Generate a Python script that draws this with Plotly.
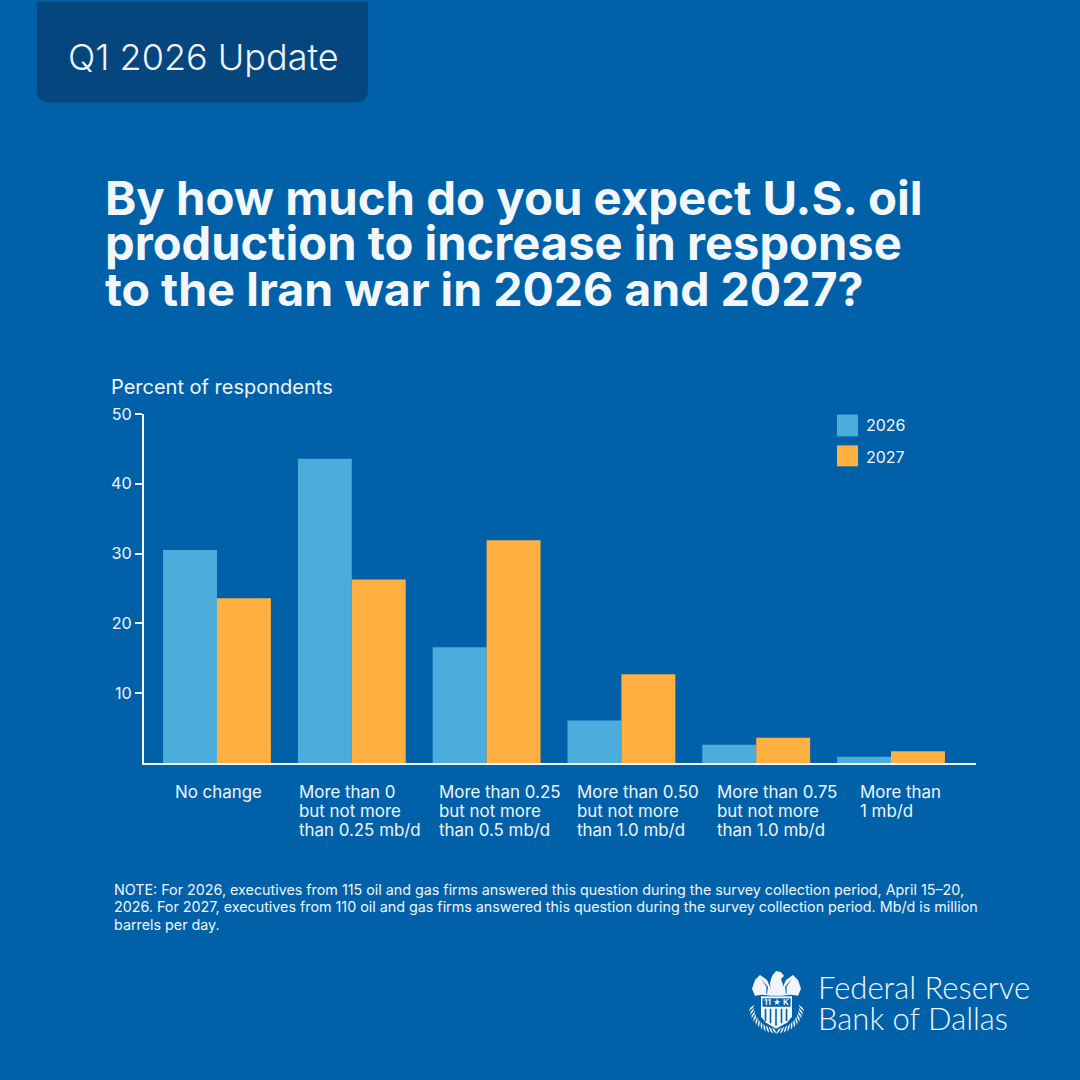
import math
import plotly.graph_objects as go

categories = ["No change", "More than 0 but not more than 0.25 mb/d", "More than 0.25 but not more than 0.5 mb/d",
              "More than 0.50 but not more than 1.0 mb/d", "More than 0.75 but not more than 1.0 mb/d", "More than 1 mb/d"]
values_2026 = [30.5, 43.6, 16.6, 6.1, 2.6, 0.9]
values_2027 = [23.6, 26.3, 31.9, 12.7, 3.6, 1.7]
y_ticks = [10, 20, 30, 40, 50]
category_lines = [["No change"], ["More than 0", "but not more", "than 0.25 mb/d"],
                  ["More than 0.25", "but not more", "than 0.5 mb/d"],
                  ["More than 0.50", "but not more", "than 1.0 mb/d"],
                  ["More than 0.75", "but not more", "than 1.0 mb/d"], ["More than", "1 mb/d"]]
category_left = [175, 299, 439, 577, 717, 860]
title_lines = ["By how much do you expect U.S. oil", "production to increase in response", "to the Iran war in 2026 and 2027?"]
note_lines = ["NOTE: For 2026, executives from 115 oil and gas firms answered this question during the survey collection period, April 15–20,",
              "2026. For 2027, executives from 110 oil and gas firms answered this question during the survey collection period. Mb/d is million",
              "barrels per day."]

BG, TAB, C26, C27, FG = "#0061A9", "#06467F", "#4BADDB", "#FFB040", "#F1F5F9"
FONT = "Inter"
W = H = 1080
L, R, T, B = 144, 976, 413.5, 763.5
px = lambda x: (x - L) / (R - L)
py = lambda y: (B - y) / (B - T)

def txt(x, y, s, size, weight=400, color=FG, font=FONT):
    return dict(xref="paper", yref="paper", x=px(x), y=py(y), text=s, showarrow=False, xanchor="left", yanchor="middle",
                align="left", borderpad=0, font=dict(family=font, size=size, color=color, weight=weight))

def path(points, close=True):
    d = "M" + " L".join(f"{px(a):.5f},{py(b):.5f}" for a, b in points)
    return d + (" Z" if close else "")

def fill(points, color=FG):
    return dict(type="path", xref="paper", yref="paper", path=path(points), fillcolor=color, line=dict(width=0))

def rect(x0, y0, x1, y1, color):
    return dict(type="rect", xref="paper", yref="paper", x0=px(x0), x1=px(x1), y0=py(y0), y1=py(y1),
                fillcolor=color, line=dict(width=0))

fig = go.Figure()
fig.add_bar(x=list(range(6)), y=values_2026, name="2026", marker=dict(color=C26, line_width=0), hovertext=categories)
fig.add_bar(x=list(range(6)), y=values_2027, name="2027", marker=dict(color=C27, line_width=0), hovertext=categories)

ann = [txt(67, 57, "Q1 2026 Update", 36, 300)]
ann[0]["yshift"] = 1.5
for s, y, size in zip(title_lines, [196.5, 241.5, 288.5], [47.3, 47.1, 46.5]):
    ann.append(txt(104, y, s, size, 700, "#F4F7FA"))
ann.append(txt(110, 386, "Percent of respondents", 20))
for left, lines in zip(category_left, category_lines):
    for j, s in enumerate(lines):
        ann.append(txt(left - 1, 793 + j * 19, s, 16.9))
for s, y in zip(note_lines, [891, 908, 925]):
    ann.append(txt(113, y, s, 14.3))
ann += [txt(865, 425, "2026", 16), txt(865, 456.5, "2027", 16)]
ann += [txt(817, 988, "Federal Reserve", 31, 300, font="Lato"), txt(817, 1019, "Bank of Dallas", 31, 300, font="Lato")]

# header tab (rounded lower corners)
tab = ("M%f,%f L%f,%f L%f,%f Q%f,%f %f,%f L%f,%f Q%f,%f %f,%f Z" % (
    px(37), py(0), px(368), py(0), px(368), py(88), px(368), py(101), px(355), py(101),
    px(50), py(101), px(37), py(101), px(37), py(88)))
shapes = [dict(type="path", xref="paper", yref="paper", path=tab, fillcolor=TAB, line=dict(width=0)),
          rect(837, 414, 858, 436, C26), rect(837, 445, 858, 466, C27)]

# seal: eagle wings, head, shield, wreath
shapes += [
    fill([(771, 990), (767, 981), (760, 976), (755, 981), (752, 990), (755, 997), (762, 996), (771, 997)]),
    fill([(782, 990), (786, 981), (793, 976), (798, 981), (801, 990), (798, 997), (791, 996), (782, 997)]),
    fill([(770, 984), (772, 977), (776, 972), (781, 973), (784, 977), (781, 980), (783, 986), (782, 997), (771, 997)]),
    fill([(761, 980), (768, 988), (767, 995), (766.2, 995), (766.5, 988)], BG),
    fill([(792, 980), (785, 988), (786, 995), (786.8, 995), (786.5, 988)], BG),
    rect(761, 997.5, 792, 999.5, FG),
    rect(761, 997.5, 762.5, 1009, FG),
    rect(790.5, 997.5, 792, 1009, FG),
    fill([(761, 1008), (792, 1008), (792, 1018), (787, 1024), (776, 1030), (766, 1024), (761, 1018)]),
]
for xs in [765.5, 770.5, 776, 781.5, 786.5]:
    shapes.append(rect(xs - 0.8, 1010, xs + 0.8, 1027 - abs(xs - 776) * 0.45, BG))
# wreath leaves on both sides of the shield
for side in (-1, 1):
    for deg in range(5, 90, 8):
        a = math.radians(deg)
        cx, cy = 776.5 + side * 25 * math.cos(a), 1007 + 25 * math.sin(a)
        ux, uy = side * -math.sin(a), math.cos(a)
        nx, ny = side * math.cos(a), math.sin(a)
        shapes.append(fill([(cx - 3 * ux - 3 * nx, cy - 3 * uy - 3 * ny), (cx + 1.4 * nx, cy + 1.4 * ny),
                            (cx + 3 * ux + 3 * nx, cy + 3 * uy + 3 * ny), (cx - 1.4 * nx, cy - 1.4 * ny)]))
ann.append(dict(xref="paper", yref="paper", x=px(776.5), y=py(1003.5), text="11 ★ K", showarrow=False,
                xanchor="center", yanchor="middle", borderpad=0, font=dict(family=FONT, size=8, color=FG, weight=700)))

fig.update_layout(
    width=W, height=H, autosize=False, paper_bgcolor=BG, plot_bgcolor=BG, showlegend=False,
    barmode="group", bargap=0.2, bargroupgap=0,
    margin=dict(l=L, r=W - R, t=T, b=H - B, pad=0),
    font=dict(family=FONT, color=FG),
    xaxis=dict(range=[(L - 217) / 134.8, (R - 217) / 134.8], showticklabels=False, ticks="", showgrid=False, zeroline=False,
               showline=True, linecolor=FG, linewidth=2),
    yaxis=dict(range=[0, 50], tickvals=y_ticks, ticks="outside", ticklen=7, tickwidth=2, tickcolor=FG,
               tickfont=dict(size=16.2, color=FG, family=FONT), showgrid=False, zeroline=False,
               showline=True, linecolor=FG, linewidth=2),
    annotations=ann, shapes=shapes,
)
fig.write_html("out.html", config=dict(displayModeBar=False),
               post_script="document.body.style.margin='0';document.body.style.overflow='hidden';document.body.style.background='%s';" % BG)
